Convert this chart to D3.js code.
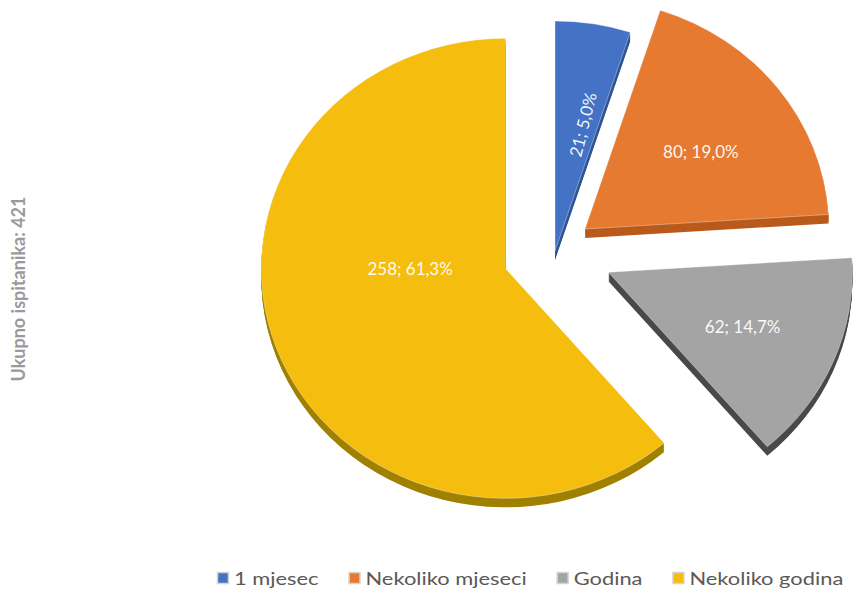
<!DOCTYPE html>
<html>
<head>
<meta charset="utf-8">
<script src="https://cdn.jsdelivr.net/npm/d3@7"></script>
<style>
  html, body { margin: 0; padding: 0; background: #ffffff; }
  svg { display: block; }
</style>
</head>
<body>
<svg id="chart" width="854" height="592"></svg>
<script>
// ---- data ----
const categories = ["1 mjesec", "Nekoliko mjeseci", "Godina", "Nekoliko godina"];
const counts = [21, 80, 62, 258];
const percentLabels = ["5,0%", "19,0%", "14,7%", "61,3%"];
const totalLabel = "Ukupno ispitanika: 421";

// ---- styles ----
const topColors = ["#4472C4", "#E67A30", "#A4A4A4", "#F5BD0D"];
const sideColors = ["#2E5597", "#B95A1C", "#4A4A4A", "#A08000"];
const explode = [0, 38, 58, 53];

const cx = 555, cy = 251;
const rx = 244, ry = 230, k = ry / rx;
const depth = 9;
const FONT = "Lato, 'Open Sans', sans-serif";

const svg = d3.select("#chart");

const pie = d3.pie().sort(null).value(d => d.value).startAngle(0).endAngle(2 * Math.PI);
const data = categories.map((c, i) => ({ name: c, value: counts[i], pct: percentLabels[i], i }));
const arcs = pie(data);
const arc = d3.arc().innerRadius(0).outerRadius(rx);

arcs.forEach(a => {
  const mid = (a.startAngle + a.endAngle) / 2;
  const e = explode[a.data.i];
  a.ox = cx + e * Math.sin(mid);
  a.oy = cy - e * Math.cos(mid) * k;
  a.mid = mid;
});

// sides (extrusion)
const sides = svg.append("g");
arcs.forEach(a => {
  for (let j = depth; j >= 1; j--) {
    sides.append("path")
      .attr("transform", `translate(${a.ox},${a.oy + j}) scale(1,${k})`)
      .attr("d", arc(a))
      .attr("fill", sideColors[a.data.i]);
  }
});

// top faces
const tops = svg.append("g");
arcs.forEach(a => {
  tops.append("path")
    .attr("transform", `translate(${a.ox},${a.oy}) scale(1,${k})`)
    .attr("d", arc(a))
    .attr("fill", topColors[a.data.i])
    .attr("stroke", "rgba(255,255,255,0.35)")
    .attr("stroke-width", 1)
    .attr("vector-effect", "non-scaling-stroke");
});

// labels
const labels = svg.append("g");
arcs.forEach(a => {
  let lx, ly;
  const f = 0.57;
  if (a.endAngle - a.startAngle > Math.PI) {
    lx = a.ox - 0.39 * rx;
    ly = a.oy;
  } else {
    lx = a.ox + f * rx * Math.sin(a.mid) + 6;
    ly = a.oy - f * rx * Math.cos(a.mid) * k + 3;
  }
  const t = labels.append("text")
    .attr("x", 0).attr("y", 0)
    .attr("text-anchor", "middle")
    .attr("dominant-baseline", "central")
    .attr("fill", "#ffffff")
    .attr("fill-opacity", 0.95)
    .attr("font-family", FONT)
    .attr("font-size", 17)
    .text(`${a.data.value}; ${a.data.pct}`);
  let rot = 0;
  if (a.endAngle - a.startAngle < 0.4) rot = -76;
  t.attr("transform", `translate(${lx},${ly}) rotate(${rot})`);
});

// vertical total label
svg.append("text")
  .attr("transform", "translate(25,289) rotate(-90)")
  .attr("text-anchor", "middle")
  .attr("fill", "#9a9a9a")
  .attr("font-family", FONT)
  .attr("font-weight", "bold")
  .attr("font-size", 18)
  .text(totalLabel);

// legend
const legend = svg.append("g");
const legStart = 217, legY = 578;
const sq = 12, sqGap = 5, itemGap = 30;
const fs = 18;
const items = categories.map((c, i) => {
  const g = legend.append("g");
  g.append("rect").attr("x", 0.5).attr("y", -sq / 2 + 0.5).attr("width", sq - 1).attr("height", sq - 1)
    .attr("fill", topColors[i]).attr("stroke", "#d4d4d4").attr("stroke-width", 1.5);
  const tx = g.append("text").attr("fill", "#595959").attr("font-family", FONT)
    .attr("font-size", fs).attr("dominant-baseline", "central").text(c);
  return { g, tx };
});
const refW = items[3].tx.node().getComputedTextLength();
const sx = refW > 0 ? 154 / refW : 1;
let x = legStart;
items.forEach(it => {
  it.g.attr("transform", `translate(${x},${legY})`);
  it.tx.attr("transform", `translate(${sq + sqGap},0) scale(${sx},1)`);
  x += sq + sqGap + it.tx.node().getComputedTextLength() * sx + itemGap;
});
</script>
</body>
</html>
